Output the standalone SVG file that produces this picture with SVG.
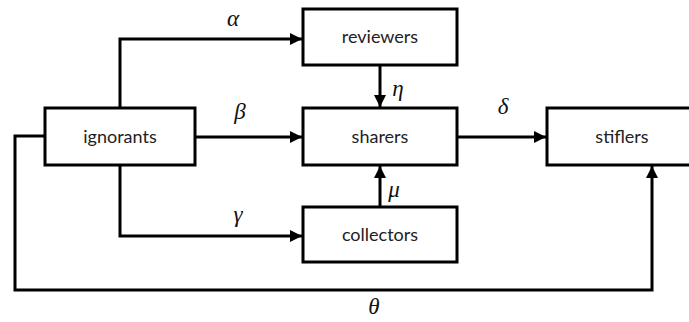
<svg xmlns="http://www.w3.org/2000/svg" width="689" height="322" viewBox="0 0 689 322">
  <defs>
    <marker id="arrow" viewBox="0 0 12 12" refX="12" refY="6" markerWidth="12" markerHeight="12" markerUnits="userSpaceOnUse" orient="auto">
      <path d="M0,0 L12,6 L0,12 Z" fill="#000"/>
    </marker>
  </defs>
  <style>
    .box { fill: #fff; stroke: #000; stroke-width: 3; }
    .lbl { font-family: Lato, "Open Sans", sans-serif; font-size: 18px; fill: #222; text-anchor: middle; }
    .gr { font-family: "Liberation Serif", serif; font-style: italic; font-size: 23px; fill: #111; text-anchor: middle; }
    .edge { fill: none; stroke: #000; stroke-width: 3; }
  </style>
  <rect width="689" height="322" fill="#fff"/>

  <g id="connectors">
    <path class="edge" d="M120,108 V39 H302" marker-end="url(#arrow)"/>
    <path class="edge" d="M195,137 H302" marker-end="url(#arrow)"/>
    <path class="edge" d="M120,165 V236 H302" marker-end="url(#arrow)"/>
    <path class="edge" d="M380,65 V107" marker-end="url(#arrow)"/>
    <path class="edge" d="M380,207 V166" marker-end="url(#arrow)"/>
    <path class="edge" d="M457,137 H546" marker-end="url(#arrow)"/>
    <path class="edge" d="M45,136 H15 V290 H652 V166" marker-end="url(#arrow)"/>
    <text class="gr" x="233" y="26">α</text>
    <text class="gr" x="240" y="119">β</text>
    <text class="gr" x="238" y="222">γ</text>
    <text class="gr" x="398" y="96">η</text>
    <text class="gr" x="503" y="114">δ</text>
    <text class="gr" x="394" y="197">μ</text>
    <text class="gr" x="374" y="314">θ</text>
  </g>

  <g id="ignorants">
    <rect class="box" x="45" y="108" width="150" height="57"/>
    <text class="lbl" x="120" y="143">ignorants</text>
  </g>
  <g id="reviewers">
    <rect class="box" x="303" y="9" width="154" height="56"/>
    <text class="lbl" x="380" y="43">reviewers</text>
  </g>
  <g id="sharers">
    <rect class="box" x="303" y="108" width="154" height="57"/>
    <text class="lbl" x="380" y="143">sharers</text>
  </g>
  <g id="collectors">
    <rect class="box" x="303" y="207" width="154" height="55"/>
    <text class="lbl" x="380" y="241">collectors</text>
  </g>
  <g id="stiflers">
    <rect class="box" x="547" y="108" width="150" height="57"/>
    <text class="lbl" x="622" y="143">stiflers</text>
  </g>
</svg>
